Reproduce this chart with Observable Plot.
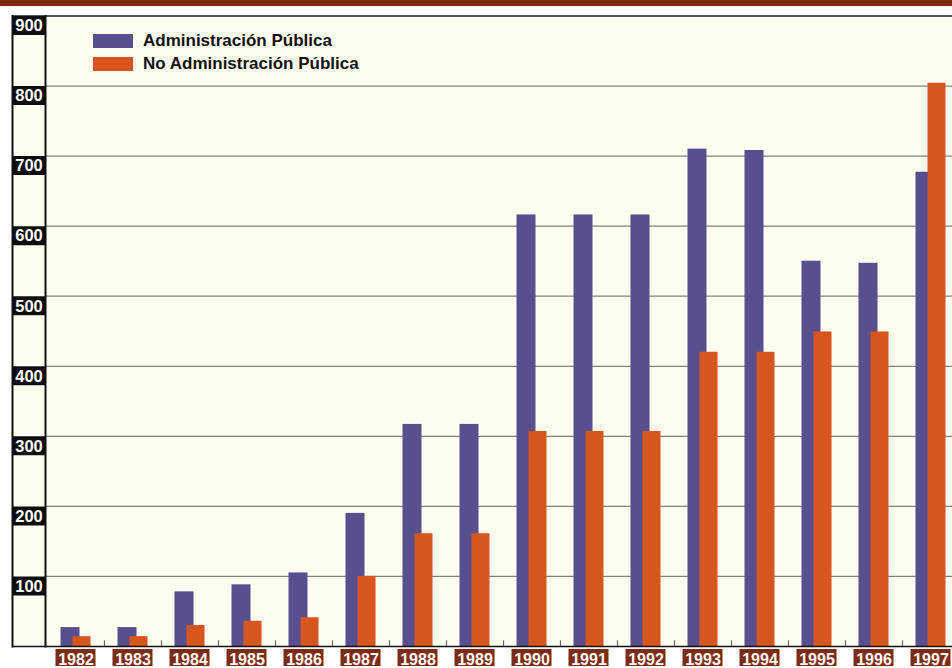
<!DOCTYPE html>
<html lang="es">
<head>
<meta charset="utf-8">
<script src="https://cdn.jsdelivr.net/npm/d3@7"></script>
<script src="https://cdn.jsdelivr.net/npm/@observablehq/plot@0.6"></script>
<style>
  html, body { margin: 0; padding: 0; background: #ffffff; }
  #wrap { position: relative; width: 952px; height: 668px; overflow: hidden; background: #ffffff;
          font-family: "Liberation Sans", Arial, sans-serif; }
  #topbar { position: absolute; left: 0; top: 0; width: 100%; height: 6px; background: #7b2a10; }
  #chart { position: absolute; left: 0; top: 0; }
  #legend { position: absolute; left: 93px; top: 30px; font-weight: bold; font-size: 17px; color: #111; }
  #legend .row { display: flex; align-items: center; height: 22.5px; }
  #legend .sw { width: 40px; height: 14px; margin-right: 10px; }
</style>
</head>
<body>
<div id="wrap">
  <div id="topbar"></div>
  <div id="chart"></div>
  <div id="legend"></div>
</div>
<script>
// Años y número de aplicaciones por sector
const years = ["1982","1983","1984","1985","1986","1987","1988","1989","1990","1991","1992","1993","1994","1995","1996","1997"];
const admin = [27, 27, 78, 88, 105, 190, 317, 317, 616, 616, 616, 710, 708, 550, 547, 677];
const noAdmin = [14, 14, 30, 36, 41, 100, 161, 161, 307, 307, 307, 420, 420, 449, 449, 804];
const yTicks = [100, 200, 300, 400, 500, 600, 700, 800, 900];

const seriesNames = ["Administración Pública", "No Administración Pública"];
const colors = ["#574f8e", "#d6561e"];

const rows = years.map((year, i) => ({year, admin: admin[i], noAdmin: noAdmin[i]}));

const cream = "#fdfdf0";
const brown = "#7b2c12";

const chart = Plot.plot({
  width: 960,
  height: 668,
  marginLeft: 12,
  marginRight: 1.5,
  marginTop: 15.5,
  marginBottom: 22,
  style: "max-width:none;background:transparent;overflow:visible;font-family:'Liberation Sans',Arial,sans-serif;",
  x: {type: "band", domain: years, range: [46.5, 958.5], padding: 0},
  y: {domain: [0, 900]},
  marks: [
    // fondo del área de trazado
    Plot.frame({fill: cream, stroke: null}),
    // líneas de referencia
    Plot.ruleY(yTicks.filter(d => d < 900), {stroke: "#82827b", strokeWidth: 1.2, insetLeft: 33}),
    Plot.ruleY([900], {stroke: "#555", strokeWidth: 2}),
    // cajas de las etiquetas del eje vertical
    Plot.ruleY(yTicks, {stroke: "#0d0d0d", strokeWidth: 19, dy: 9.5, insetRight: 913.5}),
    Plot.axisY({
      anchor: "left", ticks: yTicks, tickSize: 0, tickPadding: 0,
      textAnchor: "middle", dx: 16.5, dy: 10, fill: "white",
      fontSize: 16.5, fontWeight: "bold", label: null
    }),
    // columna izquierda
    Plot.frame({anchor: "left", stroke: "#111", strokeWidth: 2}),
    Plot.frame({anchor: "left", stroke: "#111", strokeWidth: 2, dx: 33}),
    // barras
    Plot.barY(rows, {x: "year", y: "admin", fill: colors[0], insetLeft: 13.5, insetRight: 24.5}),
    Plot.barY(rows, {x: "year", y: "noAdmin", fill: colors[1], insetLeft: 25.5, insetRight: 13.5}),
    // línea base y separadores entre años
    Plot.ruleY([0], {stroke: "#111", strokeWidth: 1.6}),
    Plot.ruleX(years.slice(1), {x: d => d, y1: 0, y2: 8, dx: -28.5, stroke: "#666", strokeWidth: 1.2}),
    // etiquetas de los años
    Plot.barY(years, {x: d => d, y1: 0, y2: 0, insetLeft: 8.5, insetRight: 8.5, insetTop: 3, insetBottom: -20, fill: brown}),
    Plot.axisX({
      anchor: "bottom", tickSize: 0, tickPadding: 7, fill: "white",
      fontSize: 16, fontWeight: "bold", label: null
    })
  ]
});
document.getElementById("chart").appendChild(chart);

// leyenda
const legend = document.getElementById("legend");
seriesNames.forEach((name, i) => {
  const row = document.createElement("div");
  row.className = "row";
  const sw = document.createElement("div");
  sw.className = "sw";
  sw.style.background = colors[i];
  const label = document.createElement("span");
  label.textContent = name;
  row.appendChild(sw);
  row.appendChild(label);
  legend.appendChild(row);
});
</script>
</body>
</html>
